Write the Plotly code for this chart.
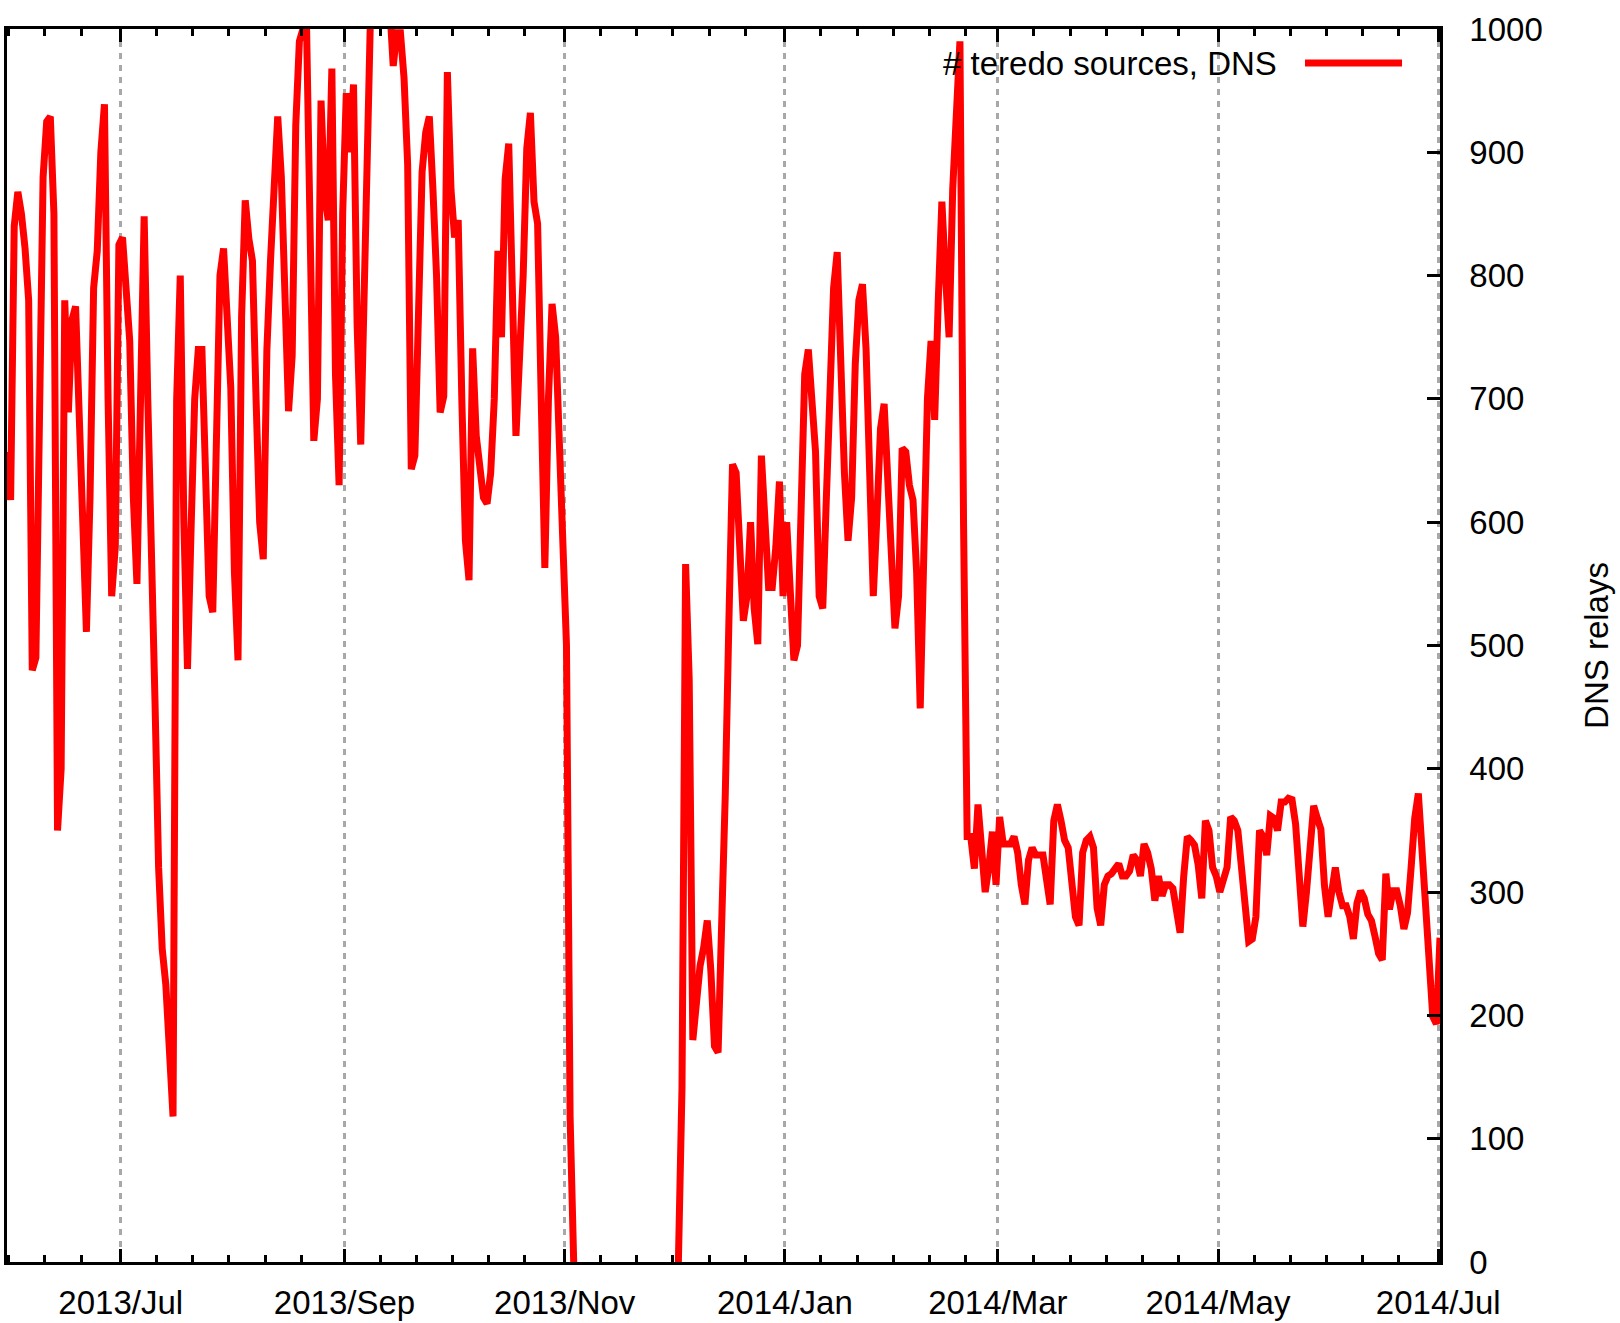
import plotly.graph_objects as go
import pandas as pd

# ---- data (daily values) ----
START = "2013-05-30 12:00"
SERIES_NAME = "# teredo sources, DNS"
Y_TITLE = "DNS relays"

relays = [
    657, 618, 840, 868, 850, 822, 780, 480, 490, 740,
    880, 925, 929, 850, 350, 400, 780, 689, 764, 775,
    700, 600, 511, 620, 790, 820, 900, 939, 700, 540,
    580, 825, 831, 780, 747, 620, 550, 700, 848, 700,
    592, 455, 320, 254, 225, 170, 118, 699, 800, 600,
    481, 595, 700, 740, 740, 640, 540, 527, 640, 800,
    822, 760, 709, 560, 488, 767, 861, 830, 812, 700,
    600, 570, 740, 812, 870, 929, 880, 760, 690, 735,
    922, 990, 1000, 1000, 858, 666, 700, 942, 865, 845,
    968, 720, 630, 851, 948, 900, 955, 760, 663, 819,
    1000, 1050, 1100, 1100, 1080, 1050, 1020, 970, 997, 997,
    960, 890, 643, 654, 767, 884, 916, 929, 870, 800,
    689, 702, 965, 870, 831, 845, 700, 585, 553, 741,
    670, 640, 620, 615, 640, 700, 820, 750, 878, 907,
    774, 670, 734, 800, 903, 932, 860, 842, 700, 563,
    700, 777, 750, 676, 600, 500, 118, 0, None, None,
    None, None, None, None, None, None, None, None, None, None,
    None, None, None, None, None, None, None, None, None, None,
    None, None, None, None, None, None, 0, 141, 566, 472,
    180, 215, 240, 255, 277, 236, 175, 170, 260, 380,
    520, 647, 640, 585, 520, 540, 600, 530, 501, 654,
    600, 547, 547, 580, 633, 540, 600, 540, 488, 500,
    640, 720, 740, 700, 657, 540, 530, 620, 720, 790,
    819, 720, 640, 585, 620, 728, 780, 793, 740, 640,
    540, 605, 676, 696, 640, 560, 514, 540, 660, 657,
    630, 618, 560, 449, 600, 700, 747, 683, 780, 860,
    800, 750, 870, 920, 990, 600, 345, 345, 319, 371,
    339, 300, 320, 349, 306, 361, 339, 339, 339, 345,
    332, 306, 290, 326, 336, 330, 330, 330, 310, 290,
    358, 371, 358, 342, 336, 300, 280, 273, 332, 342,
    345, 336, 287, 273, 306, 313, 315, 319, 323, 313,
    313, 317, 330, 326, 313, 339, 332, 319, 293, 313,
    297, 306, 306, 303, 280, 267, 313, 345, 342, 338,
    322, 295, 358, 350, 320, 313, 300, 313, 320, 361,
    358, 350, 320, 285, 260, 262, 280, 350, 345, 330,
    362, 360, 350, 373, 373, 376, 375, 355, 320, 272,
    300, 343, 370, 360, 351, 305, 280, 300, 320, 300,
    289, 289, 280, 262, 291, 301, 295, 282, 277, 264,
    250, 245, 315, 286, 301, 301, 289, 270, 283, 320,
    360, 380, 330, 290, 240, 199, 193, 263,
]

major_ticks = ["2013-07-01", "2013-09-01", "2013-11-01", "2014-01-01",
               "2014-03-01", "2014-05-01", "2014-07-01"]
major_labels = ["2013/Jul", "2013/Sep", "2013/Nov", "2014/Jan",
                "2014/Mar", "2014/May", "2014/Jul"]
y_ticks = [0, 100, 200, 300, 400, 500, 600, 700, 800, 900, 1000]

dates = pd.date_range(START, periods=len(relays), freq="D")

# minor ticks every 10 days after each major tick
majors_ts = [pd.Timestamp("2013-05-01")] + [pd.Timestamp(t) for t in major_ticks]
minor_vals = []
for i, m in enumerate(majors_ts):
    nxt = majors_ts[i + 1] if i + 1 < len(majors_ts) else m + pd.Timedelta(days=61)
    for k in range(1, 7):
        t = m + pd.Timedelta(days=10 * k)
        if t < nxt - pd.Timedelta(days=3) and dates[0] <= t <= dates[-1]:
            minor_vals.append(t)

FONT = "Liberation Sans, Arial, Helvetica, sans-serif"
FS = 33

fig = go.Figure()
fig.add_trace(go.Scatter(
    x=dates, y=relays, mode="lines", name=SERIES_NAME, showlegend=False,
    connectgaps=False,
    line=dict(color="#ff0000", width=7),
))

fig.update_layout(
    width=1620, height=1323,
    margin=dict(l=7, r=180, t=29, b=61),
    paper_bgcolor="white", plot_bgcolor="white",
    font=dict(family=FONT, size=FS, color="black"),
    showlegend=False,
    xaxis=dict(
        type="date", automargin=False,
        range=[dates[0], dates[-1]],
        tickmode="array", tickvals=major_ticks, ticktext=major_labels,
        ticks="inside", ticklen=13, tickwidth=2.5, tickcolor="black",
        showline=True, linecolor="black", linewidth=2.5, mirror="ticks",
        showgrid=True, gridcolor="#a8a8a8", gridwidth=2.5, griddash="6px,6px",
        zeroline=False,
        tickfont=dict(family=FONT, size=FS, color="black"),
        ticklabelstandoff=10,
        minor=dict(tickmode="array", tickvals=minor_vals, ticks="inside",
                   ticklen=7, tickwidth=2.5, tickcolor="black", showgrid=False),
    ),
    yaxis=dict(
        side="right", automargin=False,
        range=[0, 1000],
        tickmode="array", tickvals=y_ticks,
        ticks="inside", ticklen=13, tickwidth=2.5, tickcolor="black",
        showline=True, linecolor="black", linewidth=2.5, mirror=True,
        showgrid=False, zeroline=False,
        tickfont=dict(family=FONT, size=FS, color="black"),
        ticklabelstandoff=20,
        title=dict(text=Y_TITLE, font=dict(family=FONT, size=FS, color="black"),
                   standoff=44),
    ),
)

# legend drawn gnuplot-style: text right-aligned, sample line to its right
fig.add_annotation(
    text=SERIES_NAME, xref="paper", yref="paper", x=0.8877, y=0.9724,
    xanchor="right", yanchor="middle", showarrow=False,
    font=dict(family=FONT, size=FS, color="black"),
)
fig.add_shape(type="line", xref="paper", yref="paper",
              x0=0.9058, x1=0.9735, y0=0.9724, y1=0.9724,
              line=dict(color="#ff0000", width=7))

fig.write_html("out.html",
               config={"displayModeBar": False},
               post_script="document.body.style.margin='0px';")
